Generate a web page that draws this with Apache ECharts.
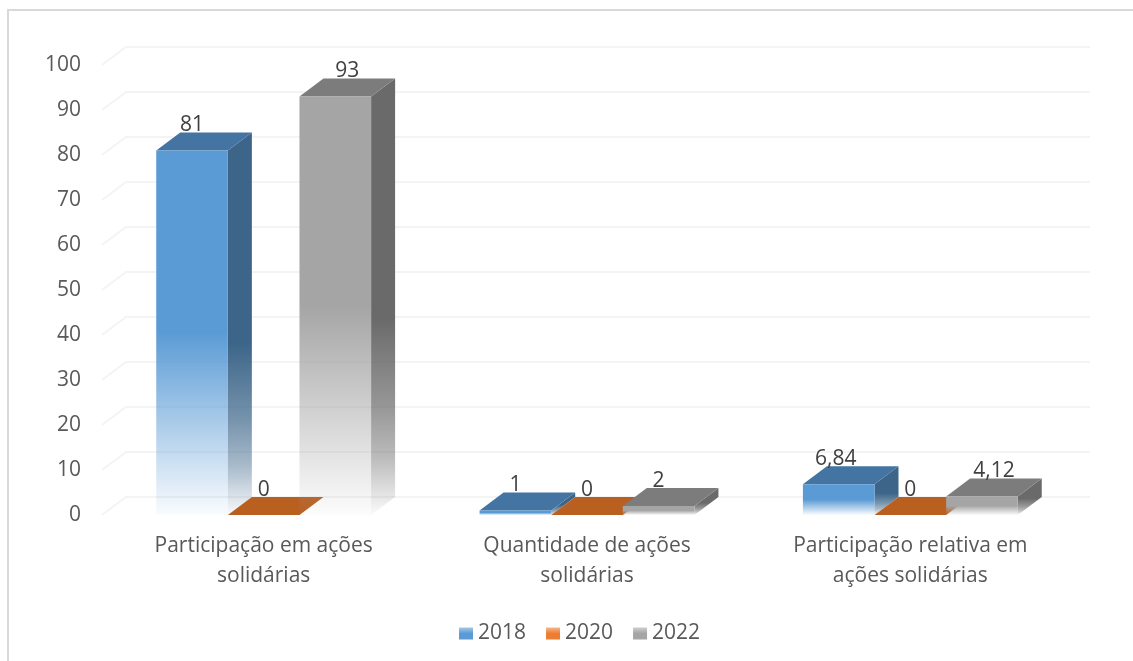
<!DOCTYPE html>
<html>
<head>
<meta charset="utf-8">
<style>html,body{margin:0;padding:0;background:#fff}#c{width:1133px;height:661px}</style>
<script src="https://cdn.jsdelivr.net/npm/echarts@6/dist/echarts.min.js"></script>
</head>
<body>
<div id="c"></div>
<script>
const categories = ['Participação em ações\nsolidárias', 'Quantidade de ações\nsolidárias', 'Participação relativa em\nações solidárias'];
const years = ['2018', '2020', '2022'];
const values2018 = [81, 1, 6.84];
const values2020 = [0, 0, 0];
const values2022 = [93, 2, 4.12];
const yTicks = [0, 10, 20, 30, 40, 50, 60, 70, 80, 90, 100];

const seriesValues = [values2018, values2020, values2022];
const palette = [
  {front: [91,155,213], side: [60,101,137], top: [68,116,161], legend: [91,155,213]},
  {front: [237,125,49], side: [150,80,30], top: [185,95,32], legend: [237,125,49]},
  {front: [165,165,165], side: [106,106,106], top: [124,124,124], legend: [165,165,165]}
];
const labelShift = [[0,0,-3],[0,0,0],[12,0,12]];
const DX = 24, DY = 18, FONT = '"Open Sans", sans-serif', FS = 21, BAND = 0.2215;

function rgba(c, a) { return 'rgba(' + c.join(',') + ',' + a + ')'; }
function fadeFront(c) {
  return {type:'linear', x:0, y:0, x2:0, y2:1, colorStops:[
    {offset:0, color:rgba(c,1)}, {offset:0.5, color:rgba(c,1)}, {offset:1, color:rgba(c,0.03)}]};
}
function fadeSide(c) {
  return {type:'linear', x:0, y:0, x2:0, y2:1, colorStops:[
    {offset:0, color:rgba(c,1)}, {offset:0.55, color:rgba(c,1)},
    {offset:0.75, color:rgba(c,0.7)}, {offset:0.87, color:rgba(c,0.45)}, {offset:1, color:rgba(c,0.03)}]};
}
function geom(api, s) {
  const base = api.coord([api.value(0), 0]);
  const top = api.coord([api.value(0), api.value(1)]);
  const w = api.size([1, 0])[0] * BAND;
  const x0 = base[0] + (s - 1.5) * w;
  return {x0, x1: x0 + w, y0: base[1], y1: top[1], cx: x0 + w / 2};
}
function barItem(s) {
  return function (params, api) {
    const g = geom(api, s), c = palette[s], kids = [];
    if (g.y0 - g.y1 > 0.5) {
      kids.push({type:'polygon', shape:{points:[[g.x1,g.y1],[g.x1+DX,g.y1-DY],[g.x1+DX,g.y0-DY],[g.x1,g.y0]]}, style:{fill:fadeSide(c.side)}});
    }
    kids.push({type:'polygon', shape:{points:[[g.x0,g.y1],[g.x1,g.y1],[g.x1+DX,g.y1-DY],[g.x0+DX,g.y1-DY]]}, style:{fill:rgba(c.top,1)}});
    if (g.y0 - g.y1 > 0.5) {
      kids.push({type:'rect', shape:{x:g.x0,y:g.y1,width:g.x1-g.x0,height:g.y0-g.y1}, style:{fill:fadeFront(c.front)}});
    }
    return {type:'group', children:kids};
  };
}
function labelItem(s) {
  return function (params, api) {
    const g = geom(api, s);
    return {type:'text', style:{
      x: g.cx + labelShift[s][api.value(0)], y: g.y1 - 25,
      text: String(api.value(1)).replace('.', ','),
      fill:'#404040', font: FS + 'px ' + FONT, align:'center', verticalAlign:'middle'}};
  };
}
function gridItem(params, api) {
  const cs = params.coordSys, y = api.coord([0, api.value(0)])[1];
  return {type:'polyline', shape:{points:[[cs.x,y],[cs.x+DX,y-DY],[cs.x+cs.width+DX-6,y-DY]]},
    style:{stroke:'#f4f4f4', lineWidth:2, fill:null}};
}

const series = [{type:'custom', name:'grade', silent:true, z:1, renderItem:gridItem, encode:{x:[], y:0},
  data: yTicks.map(function (t) { return [t]; }), clip:false}];
years.forEach(function (y, s) {
  series.push({type:'custom', name:y, z:2+s, renderItem:barItem(s), clip:false,
    itemStyle:{color:{type:'linear',x:0,y:0,x2:0,y2:1,colorStops:[
      {offset:0,color:rgba(palette[s].legend,0.55)},{offset:0.5,color:rgba(palette[s].legend,1)},{offset:1,color:rgba(palette[s].legend,1)}]}},
    encode:{x:0,y:1}, data: seriesValues[s].map(function (v, i) { return [i, v]; })});
});
years.forEach(function (y, s) {
  series.push({type:'custom', name:y + ' rótulo', z:10, renderItem:labelItem(s), clip:false, silent:true,
    encode:{x:0,y:1}, data: seriesValues[s].map(function (v, i) { return [i, v]; })});
});

const chart = echarts.init(document.getElementById('c'), null, {renderer:'canvas'});
chart.setOption({
  animation:false,
  backgroundColor:'#fff',
  grid:{left:102, right:61, top:65, bottom:146, containLabel:false},
  xAxis:{type:'category', data:categories, axisLine:{show:false}, axisTick:{show:false}, splitLine:{show:false},
    axisLabel:{color:'#595959', fontFamily:FONT, fontSize:FS, lineHeight:30, margin:16, interval:0}},
  yAxis:{type:'value', min:0, max:100, interval:10, axisLine:{show:false}, axisTick:{show:false}, splitLine:{show:false},
    axisLabel:{color:'#595959', fontFamily:FONT, fontSize:FS, margin:21}},
  legend:{data:years, left:454, top:618, itemWidth:14, itemHeight:12, itemGap:20, icon:'rect',
    textStyle:{color:'#595959', fontFamily:FONT, fontSize:FS}, selectedMode:false},
  graphic:[{type:'rect', z:0, silent:true, shape:{x:8,y:10,width:1140,height:680}, style:{fill:'none', stroke:'#d9d9d9', lineWidth:2}}],
  series:series
});
</script>
</body>
</html>
